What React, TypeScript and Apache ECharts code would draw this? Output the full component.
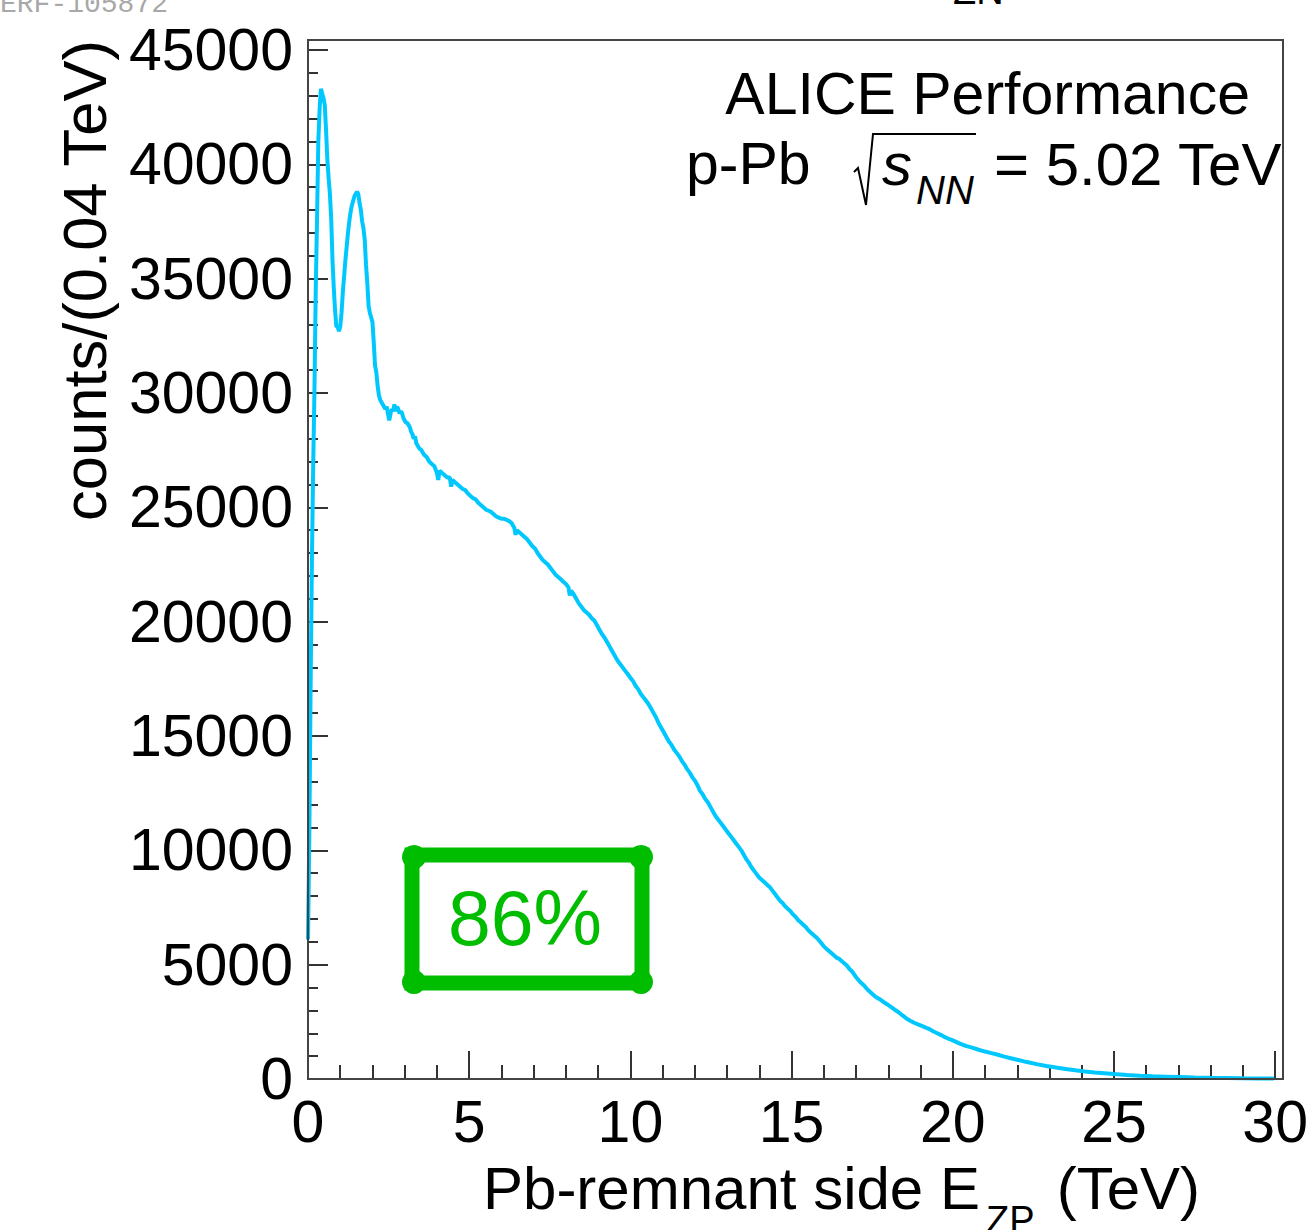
import React, { useEffect, useRef } from "react";
import * as echarts from "echarts";

// Pb-remnant side ZP energy spectrum, 0.04 TeV bins (bin low edge in TeV)
const energyTeV = [
  0.0, 0.04, 0.08, 0.12, 0.16, 0.2, 0.24, 0.28, 0.32, 0.36,
  0.4, 0.44, 0.48, 0.52, 0.56, 0.6, 0.64, 0.68, 0.72, 0.76,
  0.8, 0.84, 0.88, 0.92, 0.96, 1.0, 1.04, 1.08, 1.12, 1.16,
  1.2, 1.24, 1.28, 1.32, 1.36, 1.4, 1.44, 1.48, 1.52, 1.56,
  1.6, 1.64, 1.68, 1.72, 1.76, 1.8, 1.84, 1.88, 1.92, 1.96,
  2.0, 2.04, 2.08, 2.12, 2.16, 2.2, 2.24, 2.28, 2.32, 2.36,
  2.4, 2.44, 2.48, 2.52, 2.56, 2.6, 2.64, 2.68, 2.72, 2.76,
  2.8, 2.84, 2.88, 2.92, 2.96, 3.0, 3.04, 3.08, 3.12, 3.16,
  3.2, 3.24, 3.28, 3.32, 3.36, 3.4, 3.44, 3.52, 3.6, 3.68,
  3.76, 3.84, 3.92, 4.0, 4.04, 4.08, 4.16, 4.24, 4.32, 4.4,
  4.44, 4.48, 4.56, 4.64, 4.72, 4.8, 4.88, 4.96, 5.04, 5.12,
  5.2, 5.28, 5.36, 5.44, 5.52, 5.6, 5.68, 5.76, 5.84, 5.92,
  6.0, 6.08, 6.16, 6.24, 6.32, 6.4, 6.44, 6.48, 6.56, 6.64,
  6.72, 6.8, 6.88, 6.96, 7.04, 7.12, 7.2, 7.28, 7.36, 7.44,
  7.52, 7.6, 7.68, 7.76, 7.84, 7.92, 8.0, 8.08, 8.12, 8.16,
  8.24, 8.32, 8.4, 8.48, 8.56, 8.64, 8.72, 8.8, 8.88, 8.96,
  9.04, 9.12, 9.2, 9.28, 9.36, 9.44, 9.52, 9.6, 9.68, 9.76,
  9.84, 9.92, 10.0, 10.08, 10.16, 10.24, 10.32, 10.4, 10.48, 10.56,
  10.64, 10.72, 10.8, 10.88, 10.96, 11.04, 11.12, 11.2, 11.28, 11.36,
  11.44, 11.52, 11.6, 11.68, 11.76, 11.84, 11.92, 12.0, 12.08, 12.16,
  12.24, 12.32, 12.4, 12.48, 12.56, 12.64, 12.72, 12.8, 12.88, 12.96,
  13.04, 13.12, 13.2, 13.28, 13.36, 13.44, 13.52, 13.6, 13.68, 13.76,
  13.84, 13.92, 14.0, 14.08, 14.16, 14.24, 14.32, 14.4, 14.48, 14.56,
  14.64, 14.72, 14.8, 14.88, 14.96, 15.04, 15.12, 15.2, 15.28, 15.36,
  15.44, 15.52, 15.6, 15.68, 15.76, 15.84, 15.92, 16.0, 16.08, 16.16,
  16.24, 16.32, 16.4, 16.48, 16.56, 16.64, 16.72, 16.8, 16.88, 17.0,
  17.12, 17.24, 17.36, 17.48, 17.6, 17.72, 17.84, 17.96, 18.08, 18.2,
  18.32, 18.44, 18.56, 18.68, 18.8, 18.92, 19.04, 19.16, 19.28, 19.4,
  19.52, 19.64, 19.76, 19.88, 20.0, 20.2, 20.4, 20.6, 20.8, 21.0,
  21.2, 21.4, 21.6, 21.8, 22.0, 22.3, 22.6, 22.9, 23.2, 23.5,
  23.8, 24.1, 24.4, 24.7, 25.0, 25.4, 25.8, 26.2, 26.6, 27.0,
  27.5, 28.0, 28.5, 29.0, 29.5, 29.96,
];

const countsPerBin = [
  6100, 10500, 17000, 22500, 26700, 30100, 34500, 37600, 41000, 42400,
  43300, 43100, 42900, 42600, 41500, 40200, 39400, 38700, 37600, 35800,
  34600, 33600, 32900, 32900, 32700, 32900, 33500, 34400, 35100, 35800,
  36400, 37000, 37500, 37900, 38200, 38400, 38600, 38700, 38800, 38700,
  38300, 38000, 37500, 37200, 36700, 35600, 34800, 33800, 33500, 33300,
  33100, 32200, 31200, 30900, 30300, 29900, 29700, 29600, 29500, 29400,
  29300, 29400, 29100, 28800, 29100, 29300, 29200, 29500, 29200, 29400,
  29300, 29100, 29200, 29100, 28900, 28800, 28700, 28700, 28600, 28500,
  28300, 28200, 28000, 28100, 27800, 27700, 27600, 27500, 27300, 27200,
  27000, 26900, 26800, 26500, 26200, 26600, 26500, 26400, 26300, 26300,
  25900, 26200, 26100, 26000, 25900, 25800, 25750, 25600, 25500, 25400,
  25350, 25200, 25100, 25000, 24900, 24850, 24800, 24700, 24600, 24550,
  24500, 24500, 24450, 24400, 24300, 24100, 23800, 24000, 23900, 23800,
  23700, 23600, 23450, 23300, 23200, 23000, 22850, 22700, 22600, 22500,
  22350, 22200, 22050, 21950, 21850, 21750, 21650, 21500, 21150, 21350,
  21200, 21000, 20800, 20650, 20500, 20400, 20300, 20150, 20050, 19850,
  19650, 19450, 19300, 19100, 18900, 18700, 18500, 18300, 18150, 18000,
  17850, 17700, 17550, 17400, 17200, 17050, 16850, 16700, 16550, 16400,
  16200, 16000, 15800, 15550, 15350, 15150, 14950, 14750, 14600, 14400,
  14250, 14100, 13900, 13750, 13550, 13400, 13200, 13050, 12850, 12600,
  12450, 12250, 12100, 11900, 11700, 11500, 11350, 11200, 11050, 10900,
  10750, 10600, 10450, 10300, 10150, 10000, 9800, 9600, 9450, 9250,
  9100, 8950, 8800, 8700, 8600, 8500, 8400, 8250, 8100, 7950,
  7800, 7700, 7550, 7450, 7350, 7200, 7100, 6950, 6850, 6750,
  6650, 6500, 6400, 6300, 6200, 6080, 5950, 5800, 5700, 5600,
  5500, 5400, 5300, 5250, 5150, 5050, 4950, 4800, 4700, 4450,
  4250, 4100, 3900, 3750, 3600, 3500, 3380, 3270, 3150, 3030,
  2920, 2780, 2650, 2550, 2460, 2390, 2320, 2250, 2180, 2080,
  2000, 1920, 1830, 1750, 1690, 1560, 1450, 1370, 1280, 1200,
  1130, 1060, 980, 910, 840, 740, 650, 570, 500, 440,
  380, 330, 285, 250, 215, 175, 140, 115, 100, 85,
  65, 50, 40, 30, 25, 20,
];

const xRange = [0, 30];
const xMajorStep = 5;
const yRange = [0, 45000];
const yMajorStep = 5000;

const centralityLabel = "86%";

const W = 1311;
const H = 1230;
const FONT = "'Liberation Sans', Arial, Helvetica, sans-serif";
const LINE_BLUE = "#00c8ff";
const BOX_GREEN = "#00bd00";
const AXIS_DARK = "#333333";

export default function App() {
  const ref = useRef<HTMLDivElement>(null);

  useEffect(() => {
    if (!ref.current) return;
    const chart = echarts.init(ref.current, null, { renderer: "svg" });
    const data = energyTeV.map((e, i) => [e, countsPerBin[i]]);

    const text = (x: number, y: number, t: string, extra: any = {}, style: any = {}) => ({
      type: "text",
      x,
      y,
      silent: true,
      z: 20,
      ...extra,
      style: {
        text: t,
        fill: "#000",
        fontFamily: FONT,
        fontSize: 59,
        align: "left",
        verticalAlign: "middle",
        ...style,
      },
    });

    chart.setOption({
      animation: false,
      backgroundColor: "#ffffff",
      grid: { left: 308, right: 28, top: 50, bottom: 151, containLabel: false },
      xAxis: {
        type: "value",
        min: xRange[0],
        max: xRange[1],
        interval: xMajorStep,
        axisLine: { show: false },
        splitLine: { show: false },
        axisTick: { show: true, inside: true, length: 28, lineStyle: { color: AXIS_DARK, width: 2 } },
        minorTick: { show: true, splitNumber: 5, length: 14, lineStyle: { color: AXIS_DARK, width: 2 } },
        axisLabel: {
          margin: 13,
          fontSize: 59,
          color: "#000",
          fontFamily: FONT,
          formatter: (v: number) => String(v),
        },
      },
      yAxis: {
        type: "value",
        min: yRange[0],
        max: yRange[1],
        interval: yMajorStep,
        axisLine: { show: false },
        splitLine: { show: false },
        axisTick: { show: true, inside: true, length: 20, lineStyle: { color: AXIS_DARK, width: 2 } },
        minorTick: { show: true, splitNumber: 5, length: 10, lineStyle: { color: AXIS_DARK, width: 2 } },
        axisLabel: {
          margin: 15,
          fontSize: 59,
          color: "#000",
          fontFamily: FONT,
          formatter: (v: number) => String(v),
        },
      },
      series: [
        {
          type: "line",
          data,
          symbol: "none",
          showSymbol: false,
          clip: true,
          z: 3,
          lineStyle: { color: LINE_BLUE, width: 4 },
        },
      ],
      graphic: [
        // plot frame
        {
          type: "rect",
          silent: true,
          z: 10,
          shape: { x: 308, y: 40, width: 975, height: 1039 },
          style: { fill: "none", stroke: "#444", lineWidth: 2 },
        },
        // run stamp and title remnant at the top edge
        text(0, 4, "ERF-105872", {}, { fontFamily: "'Liberation Mono', monospace", fontSize: 28, fill: "#a8a8a8" }),
        text(953, -9, "ZN", {}, { fontSize: 38 }),
        // y axis title
        text(84, 40, "counts/(0.04 TeV)", { rotation: Math.PI / 2 }, { fontSize: 61.5, align: "right" }),
        // x axis title with subscript
        text(483, 1188, "Pb-remnant side E", {}, { fontSize: 60 }),
        text(986, 1220, "ZP", {}, { fontSize: 38 }),
        text(1040, 1188, " (TeV)", {}, { fontSize: 60 }),
        // performance labels
        text(1250, 94, "ALICE Performance", {}, { align: "right" }),
        text(686, 164, "p-Pb", {}, {}),
        {
          type: "polyline",
          silent: true,
          z: 20,
          shape: { points: [[854, 172], [858, 168], [866, 205], [873, 134], [976, 134]] },
          style: { stroke: "#000", lineWidth: 2, fill: "none" },
        },
        text(882, 164, "s", {}, { fontStyle: "italic", fontSize: 60 }),
        text(916, 190, "NN", {}, { fontSize: 40, fontStyle: "italic" }),
        text(994, 164, "= 5.02 TeV", {}, { fontSize: 60 }),
        // centrality box
        {
          type: "rect",
          silent: true,
          z: 20,
          shape: { x: 412, y: 855, width: 230, height: 128 },
          style: { fill: "#fff", stroke: BOX_GREEN, lineWidth: 15 },
        },
        ...[
          [414, 857],
          [641, 857],
          [414, 982],
          [641, 982],
        ].map(([cx, cy]) => ({
          type: "circle",
          silent: true,
          z: 21,
          shape: { cx, cy, r: 12 },
          style: { fill: BOX_GREEN },
        })),
        text(525, 918, centralityLabel, { z: 22 }, { fontSize: 77, fill: BOX_GREEN, align: "center" }),
      ],
    });

    return () => chart.dispose();
  }, []);

  return (
    <div
      ref={ref}
      style={{ position: "absolute", left: 0, top: 0, width: W, height: H, background: "#fff" }}
    />
  );
}
